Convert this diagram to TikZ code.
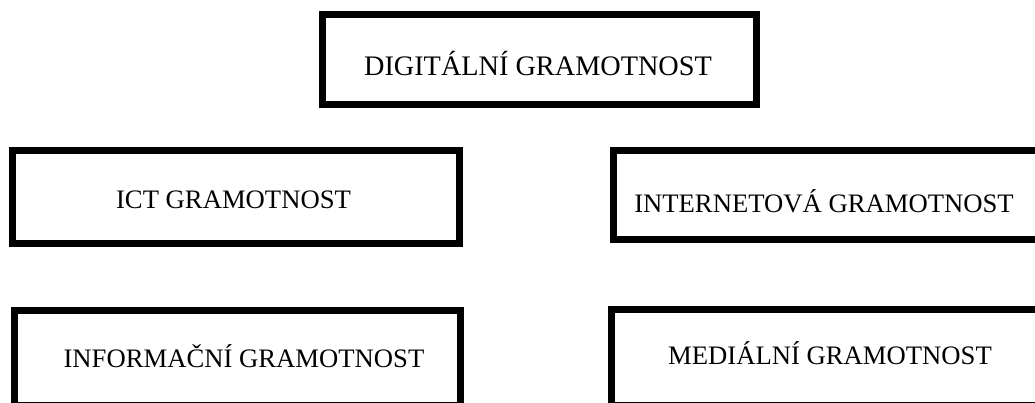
\documentclass[tikz,border=0pt]{standalone}
\usepackage{fontspec}
\setmainfont{Liberation Serif}

\begin{document}
\begin{tikzpicture}[x=0.75pt,y=-0.75pt,font=\fontsize{20}{24}\selectfont,
  ramec/.style={draw,line width=5.25pt,inner sep=0pt},
  popis/.style={anchor=base,inner sep=0pt}]
 \useasboundingbox (0,0) rectangle (1035,403);
 \clip (0,0) rectangle (1035,403);
 % ramecky
 \node[ramec,minimum width=325.5pt,minimum height=67.5pt] (dig) at (539.5,59.5) {};
 \node[ramec,minimum width=335.25pt,minimum height=69.75pt] (ict) at (236,197) {};
 \node[ramec,minimum width=319.875pt,minimum height=66.75pt] (inet) at (826.75,195) {};
 \node[ramec,minimum width=334.5pt,minimum height=70.875pt] (inf) at (237.5,357.75) {};
 \node[ramec,minimum width=325.125pt,minimum height=71.625pt] (med) at (828.25,357.25) {};
 % popisky
 \node[popis,font=\fontsize{21.2}{25}\selectfont] (tdig) at (538,75) {DIGITÁLNÍ GRAMOTNOST};
 \node[popis] (tict) at (233.5,208) {ICT GRAMOTNOST};
 \node[popis] (tinet) at (824,212) {INTERNETOVÁ GRAMOTNOST};
 \node[popis] (tinf) at (244,367) {INFORMAČNÍ GRAMOTNOST};
 \node[popis] (tmed) at (830,364) {MEDIÁLNÍ GRAMOTNOST};
\end{tikzpicture}
\end{document}
